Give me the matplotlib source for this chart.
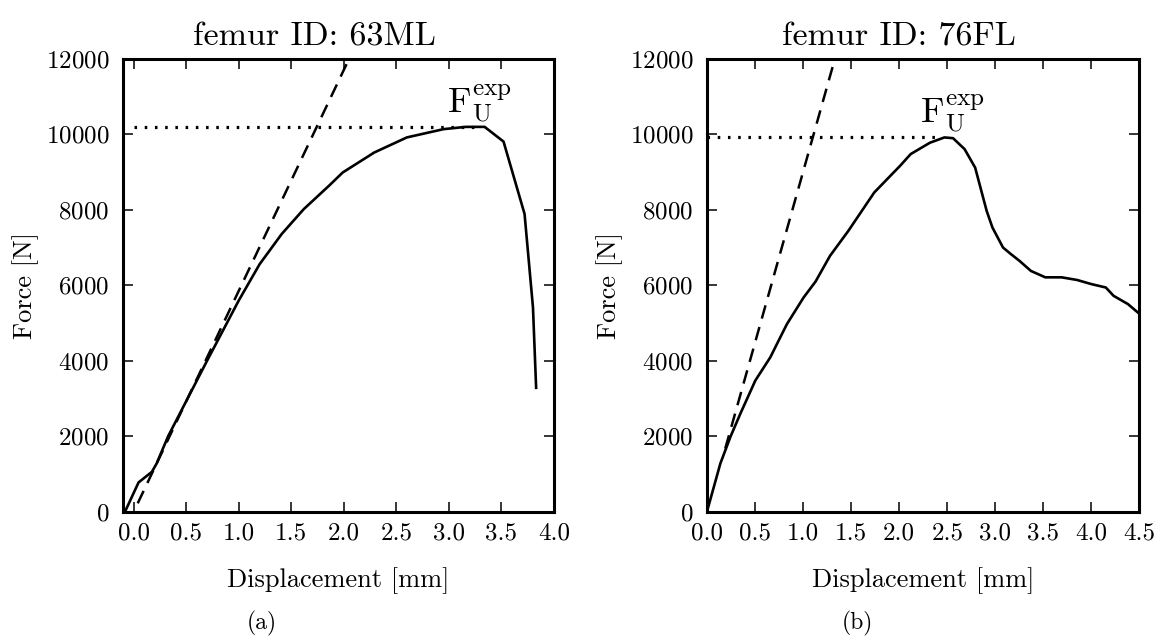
import matplotlib
matplotlib.use('Agg')
import matplotlib.pyplot as plt

plt.rcParams['font.family'] = 'serif'
plt.rcParams['font.serif'] = ['cmr10', 'DejaVu Serif']
plt.rcParams['mathtext.fontset'] = 'cm'
plt.rcParams['axes.formatter.use_mathtext'] = True
plt.rcParams['axes.unicode_minus'] = False

# femur 63ML - measured curve
disp_a = [-0.08, 0.048, 0.175, 0.22, 0.33, 0.70, 1.0, 1.2, 1.41, 1.62, 1.86, 1.99, 2.29, 2.6, 2.95, 3.16, 3.34,
          3.52, 3.72, 3.8, 3.83]
force_a = [0, 771, 1052, 1273, 2000, 4000, 5590, 6560, 7360, 8020, 8640, 8990, 9520, 9920, 10140, 10200, 10200,
           9810, 7890, 5410, 3280]
# linear fit (dashed)
lin_x_a = [0.04, 2.05]
lin_y_a = [217, 12000]
fu_a = 10200
fu_x_a = [0.0, 3.3]

# femur 76FL - measured curve
disp_b = [0.0, 0.139, 0.243, 0.347, 0.503, 0.659, 0.745, 0.832, 1.005, 1.13, 1.28, 1.47, 1.74, 2.01, 2.12, 2.32,
          2.47, 2.56, 2.68, 2.79, 2.91, 2.97, 3.08, 3.16, 3.25, 3.37, 3.52, 3.69, 3.85, 4.0, 4.15, 4.23, 4.38, 4.5]
force_b = [0, 1273, 1976, 2594, 3474, 4090, 4531, 4972, 5675, 6100, 6780, 7440, 8460, 9170, 9480, 9780,
           9920, 9900, 9610, 9120, 7970, 7530, 7000, 6830, 6650, 6380, 6210, 6210, 6140, 6030, 5940, 5720, 5500, 5240]
lin_x_b = [0.19, 1.33]
lin_y_b = [1670, 12000]
fu_b = 9930
fu_x_b = [0.0, 2.4]

fig = plt.figure(figsize=(11.55, 6.39), dpi=100)
ax1 = fig.add_axes([123/1155, 1 - 511.5/639, 431/1155, 452.5/639])
ax2 = fig.add_axes([707/1155, 1 - 511.5/639, 432.5/1155, 452.5/639])

def draw(ax, x, y, lx, ly, fu, fux, title, xlim, xticks, txt_xy):
    ax.plot(x, y, color='k', lw=1.9)
    ax.plot(lx, ly, color='k', lw=1.8, ls=(0, (5.5, 3.5)))
    ax.plot(fux, [fu, fu], color='k', lw=2.3, ls=(0, (0.8, 2.4)))
    ax.text(txt_xy[0], txt_xy[1], r'$\mathrm{F}_{\mathrm{U}}^{\mathrm{exp}}$', fontsize=26, ha='center', va='baseline')
    ax.set_xlim(xlim)
    ax.set_ylim(0, 12000)
    ax.set_xticks(xticks)
    ax.set_xticklabels(['%.1f' % t for t in xticks])
    ax.set_yticks([0, 2000, 4000, 6000, 8000, 10000, 12000])
    ax.tick_params(direction='in', length=7, width=1.1, top=True, right=True, labelsize=18)
    ax.tick_params(axis='x', pad=8)
    ax.tick_params(axis='y', pad=10)
    for s in ax.spines.values():
        s.set_linewidth(2.2)
    # title sits a bit left of the axes centre in the original
    ax.text(0.5 - 24/431, 1 + 14/452.5, title, transform=ax.transAxes, fontsize=24.5, ha='center', va='baseline')
    ax.set_xlabel('Displacement [mm]', fontsize=19, labelpad=16)
    ax.set_ylabel('Force [N]', fontsize=19, labelpad=5)

draw(ax1, disp_a, force_a, lin_x_a, lin_y_a, fu_a, fu_x_a, 'femur ID: 63ML', (-0.1, 4.0),
     [0.0, 0.5, 1.0, 1.5, 2.0, 2.5, 3.0, 3.5, 4.0], (3.29, 10560))
draw(ax2, disp_b, force_b, lin_x_b, lin_y_b, fu_b, fu_x_b, 'femur ID: 76FL', (0.0, 4.5),
     [0.0, 0.5, 1.0, 1.5, 2.0, 2.5, 3.0, 3.5, 4.0, 4.5], (2.55, 10290))

fig.text(262/1155, 1 - 623/639, '(a)', fontsize=17, ha='center', va='center')
fig.text(857/1155, 1 - 623/639, '(b)', fontsize=17, ha='center', va='center')

fig.savefig('out.png', dpi=100)
